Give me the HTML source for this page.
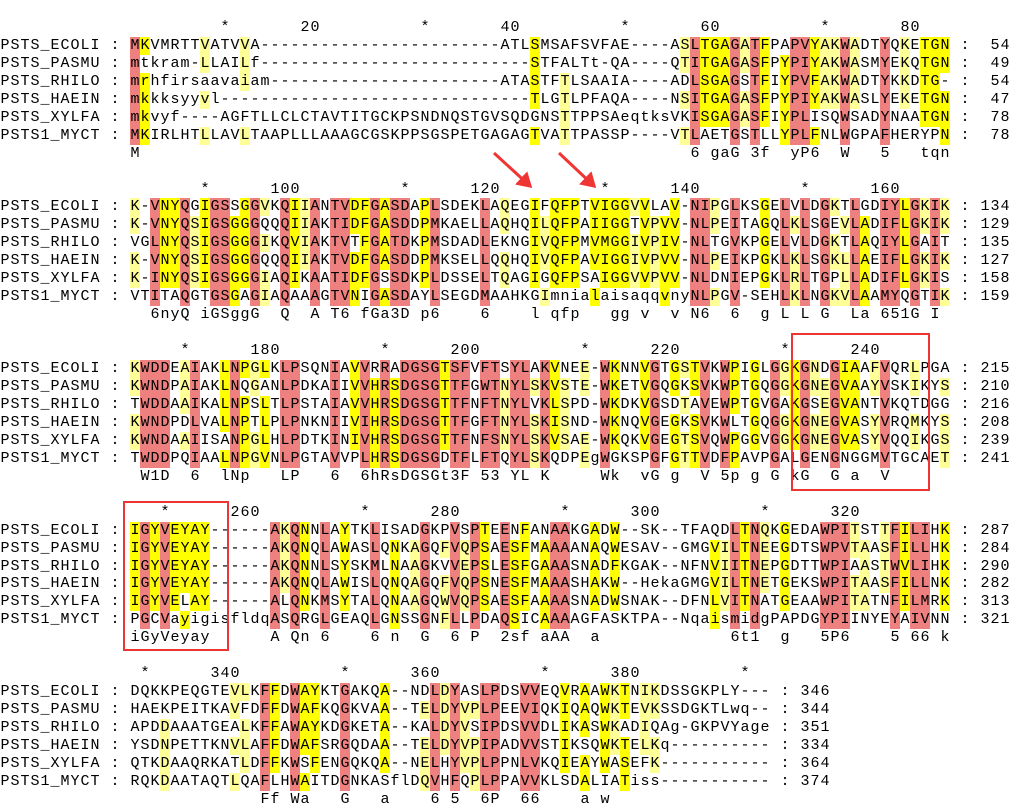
<!DOCTYPE html>
<html><head><meta charset="utf-8">
<style>
html,body{margin:0;padding:0;background:#fff;}
#stage{position:relative;width:1009px;height:809px;overflow:hidden;background:#fff;font-family:"Liberation Mono",monospace;font-size:15px;color:#000;}
.ln{position:absolute;left:0;height:18px;line-height:18px;white-space:pre;}
.c{display:inline-block;width:10px;height:18px;text-align:center;vertical-align:top;}
.r{background:#ef8080;}
.y{background:#ffff00;}
.p{background:#ffff98;}
.box{position:absolute;border:2px solid #ee3535;box-sizing:border-box;}
</style></head>
<body>
<div id="stage"></div>
<script>
const names = ["PSTS_ECOLI","PSTS_PASMU","PSTS_RHILO","PSTS_HAEIN","PSTS_XYLFA","PSTS1_MYCT"];
const block1 = [
 "MKVMRTTVATVVA"+"-".repeat(24)+"ATLSMSAFSVFAE----ASLTGAGATFPAPVYAKWADTYQKETGN",
 "mtkram-LLAILf"+"-".repeat(24)+"---STFALTt-QA----QTITGAGASFPYPIYAKWASMYEKQTGN",
 "mrhfirsaavaiam"+"-".repeat(23)+"ATASTFTLSAAIA----ADLSGAGSTFIYPVFAKWADTYKKDTG-",
 "mkkksyyvl"+"-".repeat(28)+"---TLGTLPFAQA----NSITGAGASFPYPIYAKWASLYEKETGN",
 "mkvyf----AGFTLLCLCTAVTITGCKPSNDNQSTGVSQDGNSTTPPSAeqtksVKISGAGASFIYPLISQWSADYNAATGN",
 "MKIRLHTLLAVLTAAPLLLAAAGCGSKPPSGSPETGAGAGTVATTPASSP----VTLAETGSTLLYPLFNLWGPAFHERYPN"];
const block2 = [
 "K-VNYQGIGSSGGVKQIIANTVDFGASDAPLSDEKLAQEGIFQFPTVIGGVVLAV-NIPGLKSGELVLDGKTLGDIYLGKIK",
 "K-VNYQSIGSGGGQQQIIAKTIDFGASDDPMKAELLAQHQILQFPAIIGGTVPVV-NLPEITAGQLKLSGEVLADIFLGKIK",
 "VGLNYQSIGSGGGIKQVIAKTVTFGATDKPMSDADLEKNGIVQFPMVMGGIVPIV-NLTGVKPGELVLDGKTLAQIYLGAIT",
 "K-VNYQSIGSGGGQQQIIAKTVDFGASDDPMKSELLQQHQIVQFPAVIGGIVPVV-NLPEIKPGKLKLSGKLLAEIFLGKIK",
 "K-INYQSIGSGGGIAQIKAATIDFGSSDKPLDSSELTQAGIGQFPSAIGGVVPVV-NLDNIEPGKLRLTGPLLADIFLGKIS",
 "VTITAQGTGSGAGIAQAAAGTVNIGASDAYLSEGDMAAHKGImnialaisaqqvnyNLPGV-SEHLKLNGKVLAAMYQGTIK"];
const block3 = [
 "KWDDEAIAKLNPGLKLPSQNIAVVRRADGSGTSFVFTSYLAKVNEE-WKNNVGTGSTVKWPIGLGGKGNDGIAAFVQRLPGA",
 "KWNDPAIAKLNQGANLPDKAIIVVHRSDGSGTTFGWTNYLSKVSTE-WKETVGQGKSVKWPTGQGGKGNEGVAAYVSKIKYS",
 "TWDDAAIKALNPSLTLPSTAIAVVHRSDGSGTTFNFTNYLVKLSPD-WKDKVGSDTAVEWPTGVGAKGSEGVANTVKQTDGG",
 "KWNDPDLVALNPTLPLPNKNIIVIHRSDGSGTTFGFTNYLSKISND-WKNQVGEGKSVKWLTGQGGKGNEGVASYVRQMKYS",
 "KWNDAAIISANPGLHLPDTKINIVHRSDGSGTTFNFSNYLSKVSAE-WKQKVGEGTSVQWPGGVGGKGNEGVASYVQQIKGS",
 "TWDDPQIAALNPGVNLPGTAVVPLHRSDGSGDTFLFTQYLSKQDPEgWGKSPGFGTTVDFPAVPGALGENGNGGMVTGCAET"];
const block4 = [
 "IGYVEYAY------AKQNNLAYTKLISADGKPVSPTEENFANAAKGADW--SK--TFAQDLTNQKGEDAWPITSTTFILIHK",
 "IGYVEYAY------AKQNQLAWASLQNKAGQFVQPSAESFMAAAANAQWESAV--GMGVILTNEEGDTSWPVTAASFILLHK",
 "IGYVEYAY------AKQNNLSYSKMLNAAGKVVEPSLESFGAAASNADFKGAK--NFNVIITNEPGDTTWPIAASTWVLIHK",
 "IGYVEYAY------AKQNQLAWISLQNQAGQFVQPSNESFMAAASHAKW--HekaGMGVILTNETGEKSWPITAASFILLNK",
 "IGYVELAY------ALQNKMSYTALQNAAGQWVQPSAESFAAAASNADWSNAK--DFNLVITNATGEAAWPITATNFILMRK",
 "PGCVayigisfldqASQRGLGEAQLGNSSGNFLLPDAQSICAAAAGFASKTPA--NqaismidgPAPDGYPIINYEYAIVNN"];
const block5 = [
 "DQKKPEQGTEVLKFFDWAYKTGAKQA--NDLDYASLPDSVVEQVRAAWKTNIKDSSGKPLY---",
 "HAEKPEITKAVFDFFDWAFKQGKVAA--TELDYVPLPEEVIQKIQAQWKTEVKSSDGKTLwq--",
 "APDDAAATGEALKFFAWAYKDGKETA--KALDYVSIPDSVVDLIKASWKADIQAg-GKPVYage",
 "YSDNPETTKNVLAFFDWAFSRGQDAA--TELDYVPIPADVVSTIKSQWKTELKq----------",
 "QTKDAAQRKATLDFFKWSFENGQKQA--NELHYVPLPPNLVKQIEAYWASEFK-----------",
 "RQKDAATAQTLQAFLHWAITDGNKASflDQVHFQPLPPAVVKLSDALIATiss-----------"];
const blocks = [block1, block2, block3, block4, block5];
const ends1 = [54,49,54,47,78,78];
const ends2 = [134,129,135,127,158,159];
const ends3 = [215,210,216,208,239,241];
const ends4 = [287,284,290,282,313,321];
const ends5 = [346,344,351,334,364,374];
const ends = [ends1, ends2, ends3, ends4, ends5];
const cons1 = [[1,"M"],[57,"6"],[59,"gaG"],[63,"3f"],[67,"yP6"],[72,"W"],[76,"5"],[80,"tqn"]];
const cons2 = [[3,"6nyQ"],[8,"iGSggG"],[16,"Q"],[19,"A"],[21,"T6"],[24,"fGa3D"],[30,"p6"],[36,"6"],[41,"l"],[43,"qfp"],[49,"gg"],[52,"v"],[55,"v"],[57,"N6"],[61,"6"],[64,"g"],[66,"L"],[68,"L"],[70,"G"],[73,"La"],[76,"651G"],[81,"I"]];
const cons3 = [[2,"W1D"],[7,"6"],[10,"lNp"],[16,"LP"],[21,"6"],[24,"6hRsDGSGt3F"],[36,"53"],[39,"YL"],[42,"K"],[48,"Wk"],[52,"vG"],[55,"g"],[58,"V"],[60,"5p"],[63,"g"],[65,"G"],[67,"kG"],[71,"G"],[73,"a"],[76,"V"]];
const cons4 = [[1,"iGyVeyay"],[15,"A"],[17,"Qn"],[20,"6"],[25,"6"],[27,"n"],[30,"G"],[33,"6"],[35,"P"],[38,"2sf"],[42,"aAA"],[47,"a"],[61,"6t1"],[66,"g"],[70,"5P6"],[77,"5"],[79,"66"],[82,"k"]];
const cons5 = [[14,"Ff"],[17,"Wa"],[22,"G"],[26,"a"],[31,"6"],[33,"5"],[36,"6P"],[40,"66"],[46,"a"],[48,"w"]];
const consensus = [cons1, cons2, cons3, cons4, cons5];
const BLOCK_WIDTH = 82;

const stage = document.getElementById('stage');
const LH = 17.95, TOP0 = 27, CW = 10, SEQX = 130;
const groups = {D:1,N:1,E:2,Q:2,S:3,T:3,K:4,R:4,F:5,Y:5,W:5,L:6,I:6,V:6,M:6};

function colorColumn(col) {
  const up = col.map(ch => ch === '-' ? null : ch.toUpperCase());
  const idc = {}, grc = {};
  up.forEach(u => { if (!u) return; idc[u] = (idc[u]||0)+1; const g = groups[u]; if (g) grc[g] = (grc[g]||0)+1; });
  let bi = null, bn = 0;
  for (const k in idc) if (idc[k] > bn) { bn = idc[k]; bi = k; }
  let bg = null, gn = 0;
  for (const k in grc) if (grc[k] > gn) { gn = grc[k]; bg = +k; }
  const useGroup = gn > bn;
  const level = useGroup ? gn : bn;
  const cls = level >= 6 ? 'r' : level === 5 ? 'y' : level === 4 ? 'p' : '';
  return up.map(u => {
    if (!u || !cls) return '';
    if (useGroup) return groups[u] === bg ? cls : '';
    return u === bi ? cls : '';
  });
}

function lineDiv(y, name) {
  const d = document.createElement('div');
  d.className = 'ln';
  d.style.top = Math.round(y - 8) + 'px';
  
  
  stage.appendChild(d);
  return d;
}
function cell(parent, ch, cls) {
  const s = document.createElement('span');
  s.className = 'c' + (cls ? ' ' + cls : '');
  s.textContent = ch;
  parent.appendChild(s);
}

blocks.forEach((rows, b) => {
  const base = TOP0 + b * 9 * LH;
  const len = rows[0].length;
  const start = b * BLOCK_WIDTH;
  // ruler
  const ruler = new Array(13 + len).fill(' ');
  for (let c = 1; c <= len; c++) {
    const pos = start + c;
    if (pos % 20 === 0) { const t = String(pos); for (let i = 0; i < t.length; i++) ruler[12 + c - t.length + i] = t[i]; }
    else if (pos % 10 === 0) ruler[12 + c] = '*';
  }
  const rd = lineDiv(base, 'ruler-block-' + (b+1));
  ruler.forEach(ch => cell(rd, ch, ''));
  // colors
  const colors = rows.map(() => []);
  for (let c = 0; c < len; c++) {
    const cc = colorColumn(rows.map(r => r[c]));
    cc.forEach((v, i) => colors[i][c] = v);
  }
  rows.forEach((seq, i) => {
    const d = lineDiv(base + (i+1) * LH, 'row-' + names[i].toLowerCase() + '-block-' + (b+1));
    const label = (names[i] + '            ').slice(0, 11) + ': ';
    for (const ch of label) cell(d, ch, '');
    for (let c = 0; c < len; c++) cell(d, seq[c], colors[i][c]);
    const tail = ' : ' + String(ends[b][i]).padStart(3, ' ');
    for (const ch of tail) cell(d, ch, '');
  });
  const cline = new Array(13 + len).fill(' ');
  consensus[b].forEach(([col, txt]) => { for (let i = 0; i < txt.length; i++) cline[12 + col + i] = txt[i]; });
  const cd = lineDiv(base + 7 * LH, 'consensus-block-' + (b+1));
  cline.forEach(ch => cell(cd, ch, ''));
});

function box(x, y, w, h, name) {
  const d = document.createElement('div');
  d.className = 'box';
  d.style.left = x + 'px'; d.style.top = y + 'px'; d.style.width = w + 'px'; d.style.height = h + 'px';
  
  
  stage.appendChild(d);
}
box(791, 333, 139, 158, 'highlight-box-240');
box(123, 501, 106, 150, 'highlight-box-250');
</script>
<svg width="1009" height="809" style="position:absolute;left:0;top:0;pointer-events:none">
 <defs><marker id="ah" markerWidth="6" markerHeight="6" refX="4" refY="3" orient="auto" markerUnits="strokeWidth"><path d="M0,0 L5,3 L0,6 Z" fill="#f03535"/></marker></defs>
 <line x1="494" y1="153" x2="530" y2="186" stroke="#f03535" stroke-width="3" marker-end="url(#ah)"/>
 <line x1="559" y1="153" x2="594" y2="186" stroke="#f03535" stroke-width="3" marker-end="url(#ah)"/>
</svg>
</body></html>
